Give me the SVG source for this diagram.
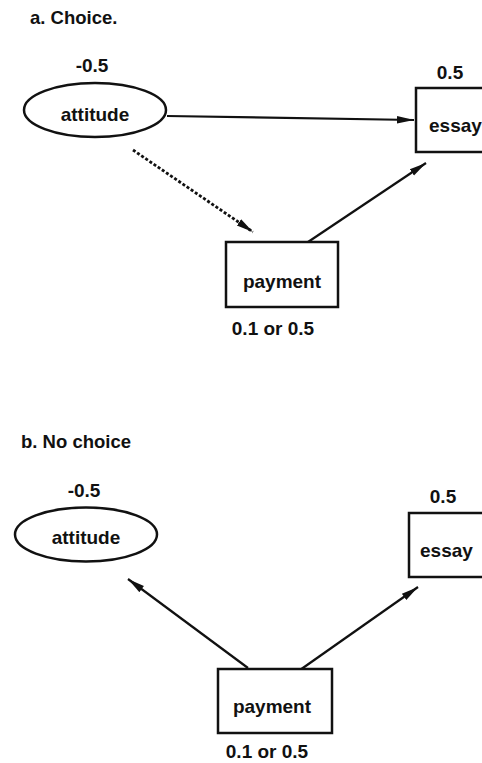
<svg xmlns="http://www.w3.org/2000/svg" width="482" height="763" viewBox="0 0 482 763">
  <style>
    text { font-family: "Liberation Sans", Arial, Helvetica, sans-serif; font-weight: bold; font-size: 19px; fill: #111; }
    .title { font-size: 18.5px; }
    .shape { fill: #fff; stroke: #111; stroke-width: 2.5; }
    .edge { fill: none; stroke: #111; stroke-width: 2.2; marker-end: url(#arrow); }
    .dotted { stroke-dasharray: 3 2; stroke-width: 2.8; }
  </style>
  <defs>
    <marker id="arrow" markerUnits="userSpaceOnUse" markerWidth="18" markerHeight="10" refX="17" refY="5" orient="auto">
      <path d="M0,1.2 L17,5 L0,8.8 Z" fill="#111"/>
    </marker>
  </defs>
  <rect width="482" height="763" fill="#fff"/>

  <!-- panel a: choice -->
  <text class="title" x="30" y="24">a. Choice.</text>
  <g id="connectors-a">
    <path class="edge" d="M167,116 L414,120"/>
    <path class="edge dotted" d="M133,150 L253,232"/>
    <path class="edge" d="M308,242 L426,163"/>
  </g>
  <g id="a-attitude">
    <text x="92" y="72" text-anchor="middle">-0.5</text>
    <ellipse class="shape" cx="95" cy="110" rx="71" ry="27"/>
    <text x="95" y="121" text-anchor="middle">attitude</text>
  </g>
  <g id="a-essay">
    <text x="450" y="79" text-anchor="middle">0.5</text>
    <rect class="shape" x="416" y="88" width="90" height="64"/>
    <text x="429" y="132">essay</text>
  </g>
  <g id="a-payment">
    <rect class="shape" x="226" y="242" width="112" height="65"/>
    <text x="282" y="288" text-anchor="middle">payment</text>
    <text x="273" y="335" text-anchor="middle">0.1 or 0.5</text>
  </g>

  <!-- panel b: no choice -->
  <text class="title" x="21" y="448">b. No choice</text>
  <g id="connectors-b">
    <path class="edge" d="M248,668 L128,579"/>
    <path class="edge" d="M300,670 L418,587"/>
  </g>
  <g id="b-attitude">
    <text x="84" y="497" text-anchor="middle">-0.5</text>
    <ellipse class="shape" cx="86" cy="534.5" rx="71" ry="27"/>
    <text x="86" y="544" text-anchor="middle">attitude</text>
  </g>
  <g id="b-essay">
    <text x="443" y="503" text-anchor="middle">0.5</text>
    <rect class="shape" x="409" y="513" width="90" height="64"/>
    <text x="420" y="557">essay</text>
  </g>
  <g id="b-payment">
    <rect class="shape" x="218" y="669" width="114" height="64"/>
    <text x="272" y="713" text-anchor="middle">payment</text>
    <text x="267" y="758" text-anchor="middle">0.1 or 0.5</text>
  </g>
</svg>
